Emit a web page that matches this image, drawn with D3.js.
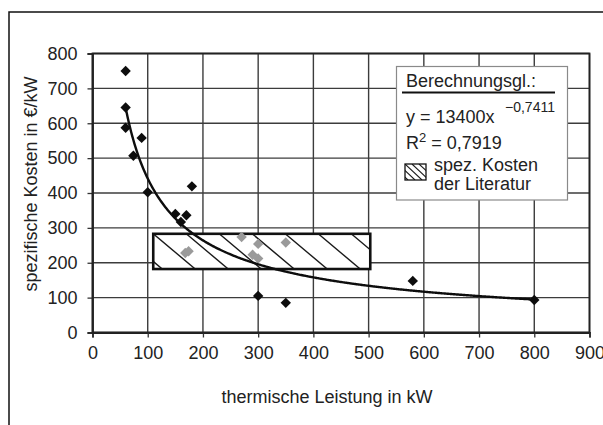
<!DOCTYPE html>
<html>
<head>
<meta charset="utf-8">
<script src="https://cdn.jsdelivr.net/npm/d3@7"></script>
<style>
  html, body { margin: 0; padding: 0; background: #fff; }
  svg { display: block; font-family: "Liberation Sans", Arial, sans-serif; }
</style>
</head>
<body>
<svg id="chart" width="603" height="425"></svg>
<script>
// Plant cost measurements (thermische Leistung in kW, spezifische Kosten in €/kW)
const blackX = [60, 60, 60, 74, 89, 100, 150, 160, 170, 180, 300, 350, 580, 800];
const blackY = [750, 645, 587, 507, 558, 402, 340, 317, 336, 419, 105, 85, 148, 93];
const grayX = [168, 174, 270, 290, 300, 300, 350];
const grayY = [228, 233, 274, 223, 254, 212, 258];

// Literature range of specific costs
const litX = [110, 503];
const litY = [182, 283];

// Power-law trend line: y = 13400 · x^-0.7411, drawn over the measured range
const trendCoef = 13400;
const trendExp = -0.7411;
const trendRange = [60, 800];
const rSquared = "0,7919";

const xTicks = [0, 100, 200, 300, 400, 500, 600, 700, 800, 900];
const yTicks = [0, 100, 200, 300, 400, 500, 600, 700, 800];

const svg = d3.select("#chart");
const plot = { left: 92.5, right: 589.5, top: 53.5, bottom: 332.5 };

const x = d3.scaleLinear().domain([0, 900]).range([plot.left, plot.right]);
const y = d3.scaleLinear().domain([0, 800]).range([plot.bottom, plot.top]);

// outer frame (only left and top edges fall inside the page)
svg.append("rect")
  .attr("x", 9).attr("y", 12).attr("width", 620).attr("height", 440)
  .attr("fill", "none").attr("stroke", "#111").attr("stroke-width", 1.5);

// grid
const grid = svg.append("g");
grid.selectAll("line.v").data(xTicks).join("line")
  .attr("x1", d => x(d)).attr("x2", d => x(d))
  .attr("y1", plot.top).attr("y2", plot.bottom)
  .attr("stroke", "#3c3c3c").attr("stroke-width", 1.4);
grid.selectAll("line.h").data(yTicks).join("line")
  .attr("y1", d => y(d)).attr("y2", d => y(d))
  .attr("x1", plot.left).attr("x2", plot.right)
  .attr("stroke", "#3c3c3c").attr("stroke-width", 1.4);

// axes
const xAxis = svg.append("g")
  .attr("transform", `translate(0,${plot.bottom})`)
  .call(d3.axisBottom(x).tickValues(xTicks).tickSize(5).tickPadding(9).tickFormat(d3.format("d")));
const yAxis = svg.append("g")
  .attr("transform", `translate(${plot.left},0)`)
  .call(d3.axisLeft(y).tickValues(yTicks).tickSize(5).tickPadding(10).tickFormat(d3.format("d")));
[xAxis, yAxis].forEach(a => {
  a.select(".domain").attr("stroke", "#222").attr("stroke-width", 1.8);
  a.selectAll(".tick line").attr("stroke", "#333").attr("stroke-width", 1.3);
  a.selectAll("text").attr("fill", "#222").attr("font-size", 18)
    .attr("font-family", "Liberation Sans, Arial, sans-serif");
});

// plot border
svg.append("rect")
  .attr("x", plot.left).attr("y", plot.top)
  .attr("width", plot.right - plot.left).attr("height", plot.bottom - plot.top)
  .attr("fill", "none").attr("stroke", "#222").attr("stroke-width", 1.8);

// axis titles
svg.append("text")
  .attr("x", 327).attr("y", 403)
  .attr("text-anchor", "middle").attr("font-size", 18).attr("fill", "#222")
  .text("thermische Leistung in kW");
svg.append("text")
  .attr("transform", "translate(37,184) rotate(-90)")
  .attr("text-anchor", "middle").attr("font-size", 18).attr("fill", "#222")
  .text("spezifische Kosten in €/kW");

// literature range: hatched rectangle
const rx0 = x(litX[0]), rx1 = x(litX[1]), ry0 = y(litY[1]), ry1 = y(litY[0]);
svg.append("clipPath").attr("id", "litClip")
  .append("rect").attr("x", rx0).attr("y", ry0).attr("width", rx1 - rx0).attr("height", ry1 - ry0);
svg.append("rect")
  .attr("x", rx0).attr("y", ry0).attr("width", rx1 - rx0).attr("height", ry1 - ry0)
  .attr("fill", "#fff");
const hatchStep = 33, hatchRun = 42;
const hatchOffsets = d3.range(-3, Math.ceil((rx1 - rx0) / hatchStep) + 1);
svg.append("g").attr("clip-path", "url(#litClip)")
  .selectAll("line").data(hatchOffsets).join("line")
  .attr("x1", k => rx0 + k * hatchStep).attr("y1", ry0)
  .attr("x2", k => rx0 + k * hatchStep + hatchRun).attr("y2", ry1)
  .attr("stroke", "#1a1a1a").attr("stroke-width", 1.4);
svg.append("rect")
  .attr("x", rx0).attr("y", ry0).attr("width", rx1 - rx0).attr("height", ry1 - ry0)
  .attr("fill", "none").attr("stroke", "#111").attr("stroke-width", 2.6);

// diamond markers
const diamond = d3.symbol().type(d3.symbolSquare).size(54);
svg.append("g").selectAll("path").data(grayX.map((v, i) => [v, grayY[i]])).join("path")
  .attr("d", diamond)
  .attr("transform", d => `translate(${x(d[0])},${y(d[1])}) rotate(45)`)
  .attr("fill", "#9a9a9a");
svg.append("g").selectAll("path").data(blackX.map((v, i) => [v, blackY[i]])).join("path")
  .attr("d", diamond)
  .attr("transform", d => `translate(${x(d[0])},${y(d[1])}) rotate(45)`)
  .attr("fill", "#0d0d0d");

// trend line
const trendPts = d3.range(trendRange[0], trendRange[1] + 1, 2).map(v => [v, trendCoef * Math.pow(v, trendExp)]);
svg.append("path")
  .datum(trendPts)
  .attr("d", d3.line().x(d => x(d[0])).y(d => y(d[1])).curve(d3.curveMonotoneX))
  .attr("fill", "none").attr("stroke", "#0d0d0d").attr("stroke-width", 2.4);

// legend box
const lg = svg.append("g");
lg.append("rect")
  .attr("x", 396.5).attr("y", 66.5).attr("width", 171).attr("height", 133.5)
  .attr("fill", "#fff").attr("stroke", "#8a8a8a").attr("stroke-width", 1.2);
lg.append("text").attr("x", 406).attr("y", 87).attr("font-size", 18).attr("fill", "#222")
  .text("Berechnungsgl.:");
lg.append("line").attr("x1", 402).attr("x2", 555).attr("y1", 92.5).attr("y2", 92.5)
  .attr("stroke", "#111").attr("stroke-width", 2);
const eq = lg.append("text").attr("x", 406).attr("y", 123).attr("font-size", 18).attr("fill", "#222");
eq.append("tspan").text(`y = ${trendCoef}x`);
lg.append("text").attr("x", 505).attr("y", 112).attr("font-size", 14).attr("fill", "#222")
  .text("\u2212" + String(Math.abs(trendExp)).replace(".", ","));
const r2 = lg.append("text").attr("x", 406).attr("y", 148.5).attr("font-size", 18).attr("fill", "#222");
r2.append("tspan").text("R");
r2.append("tspan").attr("font-size", 13).attr("dy", -7).text("2");
r2.append("tspan").attr("dy", 7).text(` = ${rSquared}`);

// legend swatch for the hatched range
const sw = { x: 405, y: 164, w: 21, h: 16 };
svg.append("clipPath").attr("id", "swClip")
  .append("rect").attr("x", sw.x).attr("y", sw.y).attr("width", sw.w).attr("height", sw.h);
lg.append("g").attr("clip-path", "url(#swClip)")
  .selectAll("line").data([-2, -1, 0, 1, 2]).join("line")
  .attr("x1", k => sw.x + k * 7).attr("y1", sw.y)
  .attr("x2", k => sw.x + k * 7 + 17).attr("y2", sw.y + sw.h)
  .attr("stroke", "#1a1a1a").attr("stroke-width", 1.1);
lg.append("rect").attr("x", sw.x).attr("y", sw.y).attr("width", sw.w).attr("height", sw.h)
  .attr("fill", "none").attr("stroke", "#111").attr("stroke-width", 1.3);
lg.append("text").attr("x", 434).attr("y", 171).attr("font-size", 18).attr("fill", "#222")
  .text("spez. Kosten");
lg.append("text").attr("x", 434).attr("y", 189.5).attr("font-size", 18).attr("fill", "#222")
  .text("der Literatur");
</script>
</body>
</html>
